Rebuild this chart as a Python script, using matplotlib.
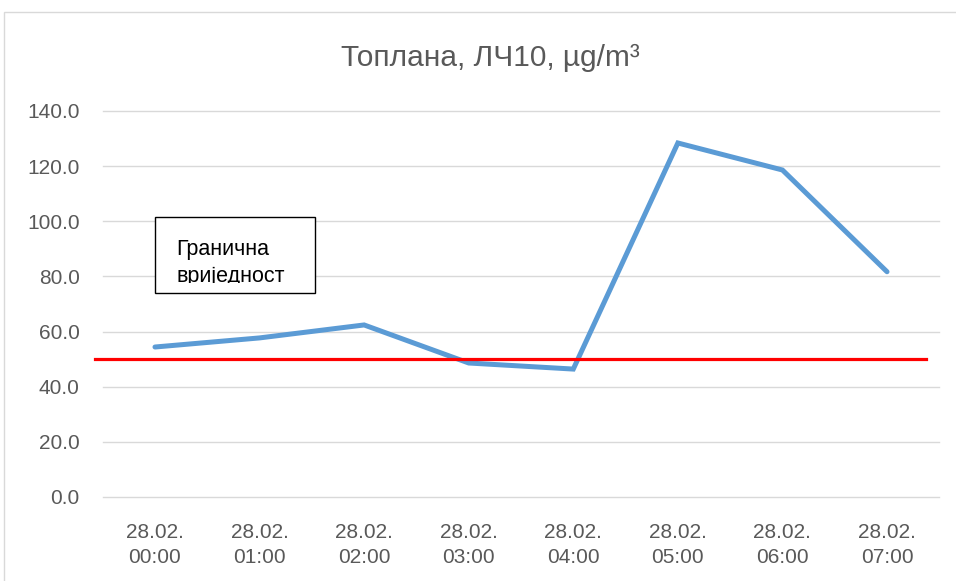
import numpy as np
import matplotlib
matplotlib.use("Agg")
import matplotlib.pyplot as plt
from matplotlib.patches import Rectangle
from matplotlib.transforms import Bbox, TransformedBbox

# ---- data ----
categories = ["28.02.\n00:00", "28.02.\n01:00", "28.02.\n02:00", "28.02.\n03:00",
              "28.02.\n04:00", "28.02.\n05:00", "28.02.\n06:00", "28.02.\n07:00"]
pm10 = [54.4, 57.7, 62.4, 48.6, 46.4, 128.4, 118.6, 81.7]
limit_value = 50.0
limit_label = "Гранична\nвриједност"
title = "Топлана, ЛЧ10, µg/m³"
yticks = [0, 20, 40, 60, 80, 100, 120, 140]

W, H = 956, 581
GRAY = "#595959"

fig = plt.figure(figsize=(W / 100, H / 100), dpi=100)
fig.patch.set_facecolor("white")

# рамка диаграммы (как в Excel)
frame = Rectangle((4 / W, -0.1), 1.2, (H - 12) / H + 0.1, transform=fig.transFigure,
                  fill=False, edgecolor="#d9d9d9", linewidth=1.0)
fig.add_artist(frame)

ax = fig.add_axes([102.7 / W, (H - 497) / H, 836.6 / W, (497 - 111) / H])
x = np.arange(len(categories))
ax.plot(x, pm10, color="#5b9bd5", linewidth=3.6, solid_capstyle="round",
        solid_joinstyle="miter", zorder=3)

# линия предельного значения (нарисована от руки, чуть шире области)
ax.plot([-0.009, 0.984], [limit_value, limit_value], color="#ff0000", linewidth=2.3,
        transform=ax.get_yaxis_transform(), clip_on=False, zorder=4)

ax.set_xlim(-0.5, len(categories) - 0.5)
ax.set_ylim(0, 140)
ax.set_yticks(yticks)
ax.set_yticklabels([f"{v:.1f}" for v in yticks])
ax.set_xticks(x)
ax.set_xticklabels(categories, linespacing=1.4)
ax.grid(axis="y", color="#d9d9d9", linewidth=1.0)
for gl in ax.get_ygridlines():
    gl.set_clip_on(False)
ax.set_axisbelow(True)
for s in ax.spines.values():
    s.set_visible(False)
ax.tick_params(axis="both", length=0, colors=GRAY, labelsize=15,
               labelfontfamily="Liberation Sans")
ax.tick_params(axis="y", pad=16.5)
ax.tick_params(axis="x", pad=19)

fig.text(490 / W, 1 - 58 / H, title, ha="center", va="center", fontsize=21.5,
         color=GRAY, family="Liberation Sans")

# текстовое поле с подписью (текст обрезан рамкой)
box = Rectangle((155 / W, 1 - 293 / H), 160 / W, 76 / H, transform=fig.transFigure,
                facecolor="white", edgecolor="black", linewidth=1.0, zorder=5)
fig.add_artist(box)
t = fig.text(176 / W, 1 - 282 / H, limit_label, ha="left", va="baseline", fontsize=15.5,
             color="black", family="Liberation Sans", linespacing=1.39, zorder=6)
t.set_clip_box(TransformedBbox(Bbox([[155 / W, 1 - 283 / H], [315 / W, 1 - 217 / H]]),
                               fig.transFigure))
t.set_clip_on(True)

fig.savefig("out.png", dpi=100)
